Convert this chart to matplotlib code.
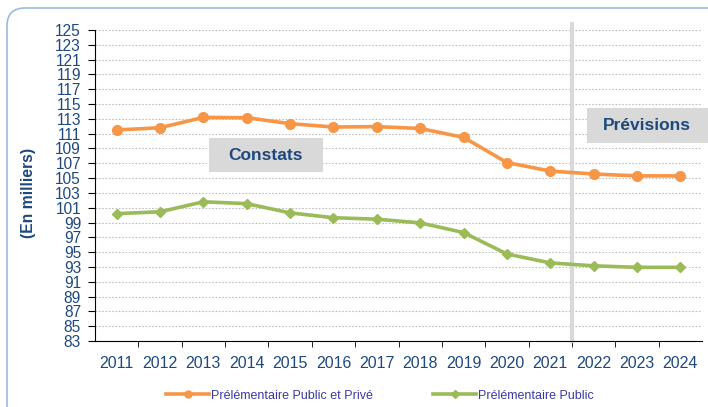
import numpy as np
import matplotlib
matplotlib.use("Agg")
import matplotlib.pyplot as plt
from matplotlib.patches import FancyBboxPatch, Rectangle
from matplotlib.lines import Line2D

plt.rcParams["font.family"] = ["Liberation Sans", "DejaVu Sans"]

years = ["2011", "2012", "2013", "2014", "2015", "2016", "2017",
         "2018", "2019", "2020", "2021", "2022", "2023", "2024"]
public_prive = [111.5, 111.8, 113.2, 113.15, 112.35, 111.9, 111.95,
                111.7, 110.5, 107.1, 105.95, 105.55, 105.3, 105.3]
public = [100.2, 100.45, 101.8, 101.55, 100.3, 99.65, 99.45,
          98.95, 97.65, 94.75, 93.55, 93.15, 92.95, 92.95]
labels = ["Prélémentaire Public et Privé", "Prélémentaire Public"]

orange = "#F79646"
green = "#9BBB59"
navy = "#1F497D"
txt_blue = "#1F497D"

W, H = 708, 407
fig = plt.figure(figsize=(W / 100, H / 100), dpi=100)

# fond avec cadre arrondi
bg = fig.add_axes([0, 0, 1, 1], zorder=-10)
bg.set_xlim(0, W)
bg.set_ylim(H, 0)
bg.axis("off")
bg.add_patch(FancyBboxPatch((7, 8), W + 20, H + 20,
                            boxstyle="round,pad=0,rounding_size=18",
                            facecolor="white", edgecolor="#9DB9DE", lw=1.2))

ax = fig.add_axes([95 / W, 1 - 341 / H, 607 / W, 311 / H])
ax.patch.set_alpha(0)
x = np.arange(len(years))

ax.set_xlim(-0.5, len(years) - 0.5)
ax.set_ylim(83, 125)
ax.set_yticks(np.arange(83, 126, 2))
ax.yaxis.grid(True, linestyle=(0, (1.5, 1.5)), color="#BFBFBF", lw=0.8)
ax.set_axisbelow(True)

ax.set_xticks(x)
ax.set_xticklabels(years)
ax.set_xticks(x[:-1] + 0.5, minor=True)
ax.tick_params(axis="x", which="major", length=0, pad=11, labelsize=11.5, labelcolor=navy)
ax.tick_params(axis="x", which="minor", length=4.5, direction="out", color="black")
ax.tick_params(axis="y", length=5, direction="out", labelsize=11.2, labelcolor=navy, pad=5)

for sp in ["top", "right"]:
    ax.spines[sp].set_visible(False)
ax.spines["left"].set_color("black")
ax.spines["bottom"].set_color("black")

# séparation constats / prévisions
ax.plot([10.5, 10.5], [83, 125.8], color="#D9D9D9", lw=3, clip_on=False, zorder=2)

ax.plot(x, public_prive, color=orange, lw=2.6, marker="o", ms=7, zorder=4)
ax.plot(x, public, color=green, lw=2.6, marker="D", ms=5.5, zorder=4)

ax.add_patch(Rectangle((2.12, 105.8), 2.64, 4.6, facecolor="#D9D9D9",
                       edgecolor="none", zorder=3))
ax.text(3.44, 108.1, "Constats", ha="center", va="center", fontsize=12.5,
        fontweight="bold", color=txt_blue, zorder=5)
ax.add_patch(Rectangle((10.85, 109.7), 2.9, 4.75, facecolor="#D9D9D9",
                       edgecolor="none", zorder=3, clip_on=False))
ax.text(12.24, 112.05, "Prévisions", ha="center", va="center", fontsize=12.5,
        fontweight="bold", color=txt_blue, zorder=5)

fig.text(28 / W, 1 - 193 / H, "(En milliers)", rotation=90, ha="center", va="center",
         fontsize=11.3, fontweight="bold", color=navy)

handles = [Line2D([], [], color=orange, lw=2.6, marker="o", ms=5),
           Line2D([], [], color=green, lw=2.6, marker="D", ms=4)]
leg = fig.legend(handles, labels, loc="center", bbox_to_anchor=(380 / W, 1 - 395.7 / H),
                 ncol=2, frameon=False, fontsize=9, handlelength=3.45,
                 handletextpad=0.15, columnspacing=4.8, borderaxespad=0)
for t in leg.get_texts():
    t.set_color("#3A3A9E")

fig.savefig("out.png", dpi=100)
